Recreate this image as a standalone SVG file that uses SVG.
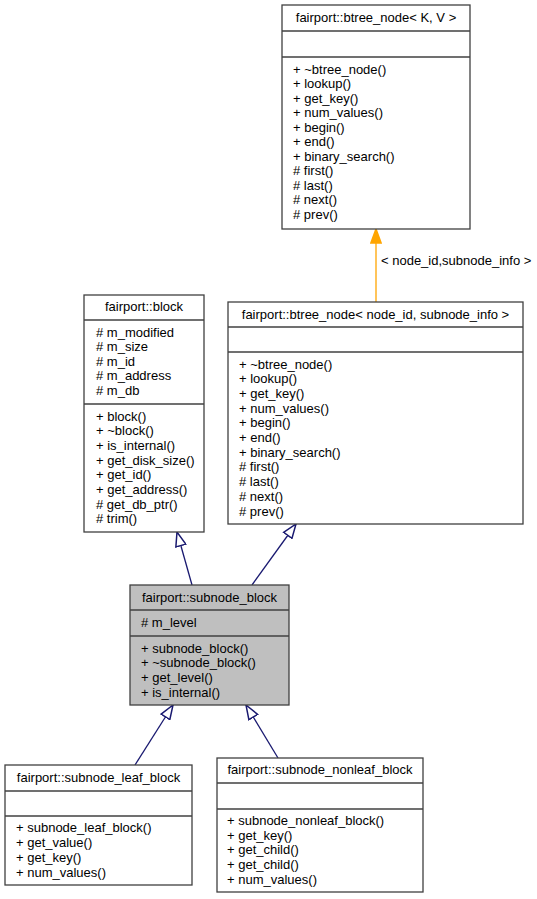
<svg xmlns="http://www.w3.org/2000/svg" width="537" height="899" viewBox="0 0 537 899">
<style>
.box{fill:#ffffff;stroke:#404040;stroke-width:1.3}
.sel{fill:#bfbfbf;stroke:#404040;stroke-width:1.3}
.div{stroke:#404040;stroke-width:1.3}
text{font-family:"Liberation Sans",Arial,sans-serif;font-size:13px;fill:#000000}
.t{text-anchor:middle}
.inh{stroke:#191970;stroke-width:1.3;fill:none;marker-end:url(#open)}
.tpl{stroke:#ffa500;stroke-width:1.3;fill:none;marker-end:url(#solid)}
</style>
<defs>
<marker id="open" markerUnits="userSpaceOnUse" markerWidth="16" markerHeight="12" refX="13" refY="5" orient="auto" viewBox="0 0 14 10">
<path d="M0.7,0.5 L13,5 L0.7,9.5 Z" fill="#ffffff" stroke="#191970" stroke-width="1.3"/>
</marker>
<marker id="solid" markerUnits="userSpaceOnUse" markerWidth="16" markerHeight="12" refX="13" refY="5" orient="auto" viewBox="0 0 14 10">
<path d="M0.7,0.5 L13,5 L0.7,9.5 Z" fill="#ffa500" stroke="#ffa500" stroke-width="1.3"/>
</marker>
</defs>
<g id="connectors">
<line class="inh" x1="192" y1="585" x2="177" y2="532"/>
<line class="inh" x1="252" y1="585" x2="296" y2="524"/>
<line class="inh" x1="135" y1="765" x2="173" y2="705"/>
<line class="inh" x1="278" y1="758" x2="246" y2="705"/>
<line class="tpl" x1="376" y1="302" x2="376" y2="229"/>
<text x="381" y="264.5">&lt; node_id,subnode_info &gt;</text>
</g>
<g id="btree_node_KV">
<rect class="box" x="282" y="5" width="188" height="224"/>
<line class="div" x1="282" y1="31" x2="470" y2="31"/>
<line class="div" x1="282" y1="57" x2="470" y2="57"/>
<text class="t" x="376" y="21.5">fairport::btree_node&lt; K, V &gt;</text>
<text x="293"><tspan x="293" y="73.5">+ ~btree_node()</tspan><tspan x="293" y="88">+ lookup()</tspan><tspan x="293" y="102.5">+ get_key()</tspan><tspan x="293" y="117">+ num_values()</tspan><tspan x="293" y="131.5">+ begin()</tspan><tspan x="293" y="146">+ end()</tspan><tspan x="293" y="160.5">+ binary_search()</tspan><tspan x="293" y="175"># first()</tspan><tspan x="293" y="189.5"># last()</tspan><tspan x="293" y="204"># next()</tspan><tspan x="293" y="218.5"># prev()</tspan></text>
</g>
<g id="block">
<rect class="box" x="84" y="295" width="120" height="237"/>
<line class="div" x1="84" y1="320" x2="204" y2="320"/>
<line class="div" x1="84" y1="404" x2="204" y2="404"/>
<text class="t" x="144" y="310.5">fairport::block</text>
<text x="96"><tspan x="96" y="336.5"># m_modified</tspan><tspan x="96" y="351"># m_size</tspan><tspan x="96" y="365.5"># m_id</tspan><tspan x="96" y="380"># m_address</tspan><tspan x="96" y="394.5"># m_db</tspan></text>
<text x="96"><tspan x="96" y="420.5">+ block()</tspan><tspan x="96" y="435.2">+ ~block()</tspan><tspan x="96" y="449.9">+ is_internal()</tspan><tspan x="96" y="464.6">+ get_disk_size()</tspan><tspan x="96" y="479.3">+ get_id()</tspan><tspan x="96" y="494">+ get_address()</tspan><tspan x="96" y="508.7"># get_db_ptr()</tspan><tspan x="96" y="523.4"># trim()</tspan></text>
</g>
<g id="btree_node_subnode">
<rect class="box" x="228" y="302" width="295" height="222"/>
<line class="div" x1="228" y1="327" x2="523" y2="327"/>
<line class="div" x1="228" y1="352" x2="523" y2="352"/>
<text class="t" x="375.5" y="318.5">fairport::btree_node&lt; node_id, subnode_info &gt;</text>
<text x="239"><tspan x="239" y="368.5">+ ~btree_node()</tspan><tspan x="239" y="383.2">+ lookup()</tspan><tspan x="239" y="397.9">+ get_key()</tspan><tspan x="239" y="412.6">+ num_values()</tspan><tspan x="239" y="427.3">+ begin()</tspan><tspan x="239" y="442">+ end()</tspan><tspan x="239" y="456.7">+ binary_search()</tspan><tspan x="239" y="471.4"># first()</tspan><tspan x="239" y="486.1"># last()</tspan><tspan x="239" y="500.8"># next()</tspan><tspan x="239" y="515.5"># prev()</tspan></text>
</g>
<g id="subnode_block">
<rect class="sel" x="130" y="585" width="159" height="120"/>
<line class="div" x1="130" y1="610" x2="289" y2="610"/>
<line class="div" x1="130" y1="636" x2="289" y2="636"/>
<text class="t" x="209.5" y="601.5">fairport::subnode_block</text>
<text x="141" y="626.5"># m_level</text>
<text x="141"><tspan x="141" y="652.5">+ subnode_block()</tspan><tspan x="141" y="667.2">+ ~subnode_block()</tspan><tspan x="141" y="681.9">+ get_level()</tspan><tspan x="141" y="696.6">+ is_internal()</tspan></text>
</g>
<g id="subnode_leaf_block">
<rect class="box" x="5" y="765" width="187" height="120"/>
<line class="div" x1="5" y1="791" x2="192" y2="791"/>
<line class="div" x1="5" y1="816" x2="192" y2="816"/>
<text class="t" x="98.5" y="781.5">fairport::subnode_leaf_block</text>
<text x="16"><tspan x="16" y="831.5">+ subnode_leaf_block()</tspan><tspan x="16" y="846.5">+ get_value()</tspan><tspan x="16" y="861.5">+ get_key()</tspan><tspan x="16" y="876.5">+ num_values()</tspan></text>
</g>
<g id="subnode_nonleaf_block">
<rect class="box" x="217" y="758" width="206" height="134"/>
<line class="div" x1="217" y1="783" x2="423" y2="783"/>
<line class="div" x1="217" y1="809" x2="423" y2="809"/>
<text class="t" x="320" y="773.5">fairport::subnode_nonleaf_block</text>
<text x="227"><tspan x="227" y="825.2">+ subnode_nonleaf_block()</tspan><tspan x="227" y="839.8">+ get_key()</tspan><tspan x="227" y="854.4">+ get_child()</tspan><tspan x="227" y="869">+ get_child()</tspan><tspan x="227" y="883.5">+ num_values()</tspan></text>
</g>
</svg>
